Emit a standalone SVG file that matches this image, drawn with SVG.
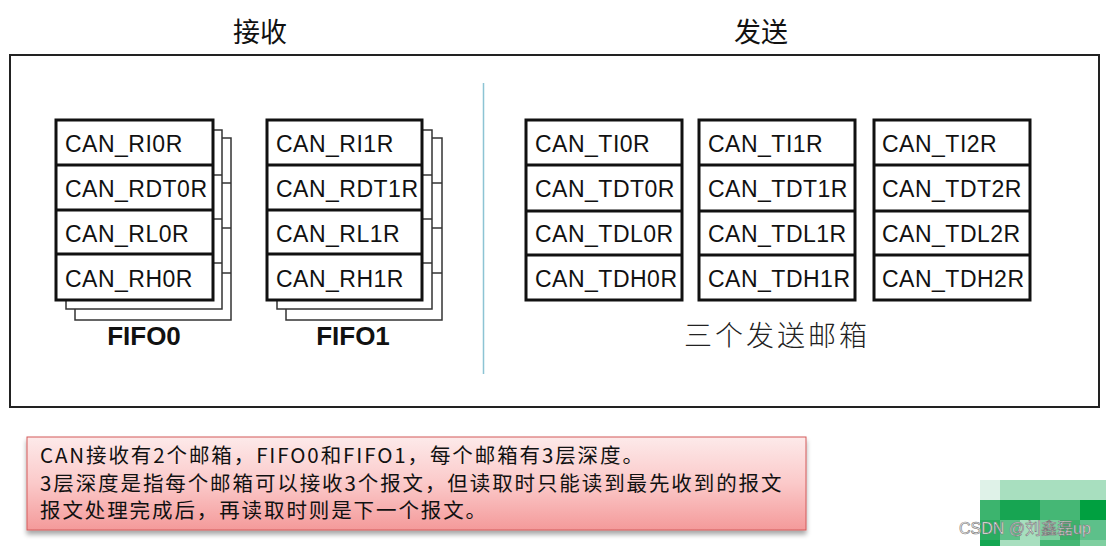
<svg xmlns="http://www.w3.org/2000/svg" width="1106" height="546" viewBox="0 0 1106 546">
<defs>
<linearGradient id="pink" x1="0" y1="0" x2="0" y2="1">
<stop offset="0" stop-color="#fdeaea"/>
<stop offset="0.5" stop-color="#fbc9c9"/>
<stop offset="1" stop-color="#f49a9a"/>
</linearGradient>
<filter id="sh" x="-5%" y="-20%" width="110%" height="150%">
<feGaussianBlur in="SourceAlpha" stdDeviation="2.5"/>
<feOffset dx="0" dy="4"/>
<feComponentTransfer><feFuncA type="linear" slope="0.35"/></feComponentTransfer>
<feMerge><feMergeNode/><feMergeNode in="SourceGraphic"/></feMerge>
</filter>
</defs>
<style>
.title{font-family:"Noto Sans CJK SC",sans-serif;font-size:27px;fill:#111;text-anchor:middle}
.reg{font-family:"Liberation Sans",Arial,sans-serif;font-size:23px;letter-spacing:0.5px;fill:#111}
.fifo{font-family:"Liberation Sans",Arial,sans-serif;font-size:26px;font-weight:bold;fill:#111;text-anchor:middle}
.main{fill:#fff;stroke:#111;stroke-width:3}
.shadow{fill:#fff;stroke:#333;stroke-width:1.5}
.sdiv{stroke:#333;stroke-width:1.5}
.div{stroke:#111;stroke-width:3}
.note{font-family:"Noto Sans CJK SC",sans-serif;font-size:20.5px;letter-spacing:1.9px;fill:#111}
</style>
<rect width="1106" height="546" fill="#fff"/>
<text class="title" x="260" y="42">接收</text>
<text class="title" x="761" y="42">发送</text>
<rect x="10" y="55" width="1089" height="352" fill="none" stroke="#222" stroke-width="2"/>
<line x1="483.5" y1="83" x2="483.5" y2="374" stroke="#8cc4d4" stroke-width="1.5"/>

<g id="fifo0">
<rect class="shadow" x="75" y="138" width="156" height="182"/>
<line class="sdiv" x1="75" y1="183" x2="231" y2="183"/>
<line class="sdiv" x1="75" y1="228" x2="231" y2="228"/>
<line class="sdiv" x1="75" y1="273" x2="231" y2="273"/>
<rect class="shadow" x="66" y="130" width="156" height="179"/>
<line class="sdiv" x1="66" y1="175" x2="222" y2="175"/>
<line class="sdiv" x1="66" y1="219" x2="222" y2="219"/>
<line class="sdiv" x1="66" y1="263" x2="222" y2="263"/>
<rect class="main" x="56" y="120" width="157" height="180"/>
<line class="div" x1="56" y1="165" x2="213" y2="165"/>
<line class="div" x1="56" y1="210" x2="213" y2="210"/>
<line class="div" x1="56" y1="254" x2="213" y2="254"/>
<text class="reg" x="65" y="152">CAN_RI0R</text>
<text class="reg" x="65" y="197">CAN_RDT0R</text>
<text class="reg" x="65" y="242">CAN_RL0R</text>
<text class="reg" x="65" y="287">CAN_RH0R</text>
<text class="fifo" x="144" y="345">FIFO0</text>
</g>

<g id="fifo1">
<rect class="shadow" x="286" y="138" width="156" height="182"/>
<line class="sdiv" x1="286" y1="183" x2="442" y2="183"/>
<line class="sdiv" x1="286" y1="228" x2="442" y2="228"/>
<line class="sdiv" x1="286" y1="273" x2="442" y2="273"/>
<rect class="shadow" x="277" y="130" width="155" height="179"/>
<line class="sdiv" x1="277" y1="175" x2="432" y2="175"/>
<line class="sdiv" x1="277" y1="219" x2="432" y2="219"/>
<line class="sdiv" x1="277" y1="263" x2="432" y2="263"/>
<rect class="main" x="267" y="120" width="155" height="180"/>
<line class="div" x1="267" y1="165" x2="422" y2="165"/>
<line class="div" x1="267" y1="210" x2="422" y2="210"/>
<line class="div" x1="267" y1="254" x2="422" y2="254"/>
<text class="reg" x="276" y="152">CAN_RI1R</text>
<text class="reg" x="276" y="197">CAN_RDT1R</text>
<text class="reg" x="276" y="242">CAN_RL1R</text>
<text class="reg" x="276" y="287">CAN_RH1R</text>
<text class="fifo" x="353" y="345">FIFO1</text>
</g>

<g id="mailbox0">
<rect class="main" x="526" y="120" width="156" height="180"/>
<line class="div" x1="526" y1="165" x2="682" y2="165"/>
<line class="div" x1="526" y1="211" x2="682" y2="211"/>
<line class="div" x1="526" y1="255" x2="682" y2="255"/>
<text class="reg" x="535" y="152">CAN_TI0R</text>
<text class="reg" x="535" y="197">CAN_TDT0R</text>
<text class="reg" x="535" y="242">CAN_TDL0R</text>
<text class="reg" x="535" y="287">CAN_TDH0R</text>
</g>

<g id="mailbox1">
<rect class="main" x="699" y="120" width="156" height="180"/>
<line class="div" x1="699" y1="165" x2="855" y2="165"/>
<line class="div" x1="699" y1="211" x2="855" y2="211"/>
<line class="div" x1="699" y1="255" x2="855" y2="255"/>
<text class="reg" x="708" y="152">CAN_TI1R</text>
<text class="reg" x="708" y="197">CAN_TDT1R</text>
<text class="reg" x="708" y="242">CAN_TDL1R</text>
<text class="reg" x="708" y="287">CAN_TDH1R</text>
</g>

<g id="mailbox2">
<rect class="main" x="874" y="120" width="156" height="180"/>
<line class="div" x1="874" y1="165" x2="1030" y2="165"/>
<line class="div" x1="874" y1="211" x2="1030" y2="211"/>
<line class="div" x1="874" y1="255" x2="1030" y2="255"/>
<text class="reg" x="882" y="152">CAN_TI2R</text>
<text class="reg" x="882" y="197">CAN_TDT2R</text>
<text class="reg" x="882" y="242">CAN_TDL2R</text>
<text class="reg" x="882" y="287">CAN_TDH2R</text>
</g>

<text x="777" y="346" font-family="'Noto Sans CJK SC',sans-serif" font-size="28" font-weight="300" fill="#222" text-anchor="middle" letter-spacing="3">三个发送邮箱</text>

<g id="note">
<rect x="27" y="437" width="779" height="93" fill="url(#pink)" stroke="#d35a5a" stroke-width="1" filter="url(#sh)"/>
<text class="note" x="40" y="463">CAN接收有2个邮箱，FIFO0和FIFO1，每个邮箱有3层深度。</text>
<text class="note" x="40" y="491">3层深度是指每个邮箱可以接收3个报文，但读取时只能读到最先收到的报文</text>
<text class="note" x="40" y="518">报文处理完成后，再读取时则是下一个报文。</text>
</g>

<g id="watermark">
<rect x="980" y="480" width="20" height="20" fill="#dff2e8"/>
<rect x="1000" y="480" width="106" height="20" fill="#a8dfbf"/>
<rect x="980" y="500" width="20" height="20" fill="#3cb46e"/>
<rect x="1000" y="500" width="40" height="20" fill="#17a552"/>
<rect x="1040" y="500" width="40" height="20" fill="#45b775"/>
<rect x="1080" y="500" width="26" height="20" fill="#00a040"/>
<rect x="980" y="520" width="20" height="20" fill="#2aac60"/>
<rect x="1000" y="520" width="20" height="20" fill="#5cc088"/>
<rect x="1020" y="520" width="20" height="20" fill="#a6dfbe"/>
<rect x="1040" y="520" width="20" height="20" fill="#7fcfa0"/>
<rect x="1060" y="520" width="20" height="20" fill="#3db06b"/>
<rect x="1080" y="520" width="26" height="20" fill="#5dc08a"/>
<rect x="980" y="540" width="20" height="6" fill="#14a651"/>
<rect x="1000" y="540" width="40" height="6" fill="#a8dfbf"/>
<rect x="1040" y="540" width="40" height="6" fill="#45b775"/>
<rect x="1080" y="540" width="26" height="6" fill="#7fcfa0"/>
<text x="959" y="534" font-family="'Liberation Sans','Noto Sans CJK SC',sans-serif" font-size="16" fill="#f4f4f4" stroke="#777" stroke-width="0.6">CSDN @刘鑫磊up</text>
</g>
</svg>
